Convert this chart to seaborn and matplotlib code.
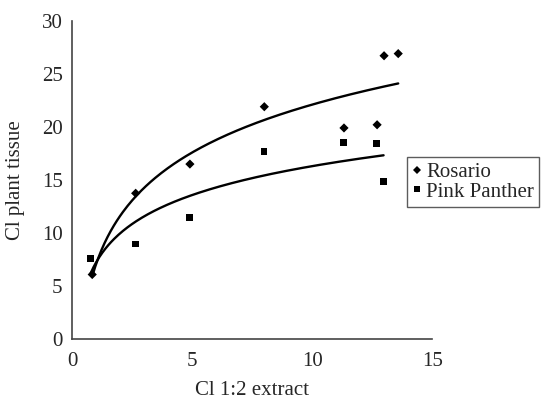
import numpy as np
import pandas as pd
import matplotlib
matplotlib.use("Agg")
import matplotlib.pyplot as plt
import seaborn as sns

# data
rosario_x = [0.83, 2.64, 4.90, 8.00, 11.32, 12.70, 12.99, 13.58]
rosario_y = [6.1, 13.75, 16.5, 21.9, 19.9, 20.2, 26.7, 26.9]
pink_x = [0.76, 2.63, 4.88, 7.99, 11.31, 12.68, 12.97]
pink_y = [7.6, 8.97, 11.47, 17.66, 18.54, 18.45, 14.85]
series_names = ["Rosario", "Pink Panther"]
x_ticks = [0, 5, 10, 15]
y_ticks = [0, 5, 10, 15, 20, 25, 30]

df = pd.DataFrame({
    "x": rosario_x + pink_x,
    "y": rosario_y + pink_y,
    "cultivar": [series_names[0]] * len(rosario_x) + [series_names[1]] * len(pink_x),
})

sns.set_style("white")
plt.rcParams["font.family"] = ["Liberation Serif", "DejaVu Serif"]

fig = plt.figure(figsize=(5.42, 3.98), dpi=100)
ax = fig.add_axes([0.1334, 0.1475, 0.6642, 0.8005])

# logarithmic trendlines (Excel style), fitted to each series
fits = []
for name, xs, ys in [(series_names[0], rosario_x, rosario_y),
                     (series_names[1], pink_x, pink_y)]:
    a, b = np.polyfit(np.log(xs), ys, 1)
    xx = np.linspace(min(xs), max(xs), 200)
    fits.append(pd.DataFrame({"x": xx, "y": a * np.log(xx) + b, "cultivar": name}))
fit_df = pd.concat(fits)

sns.lineplot(data=fit_df, x="x", y="y", units="cultivar", estimator=None,
             color="black", linewidth=1.7, ax=ax, legend=False)

sns.scatterplot(data=df, x="x", y="y", style="cultivar",
                markers={"Rosario": "D", "Pink Panther": "s"},
                color="black", s=22, edgecolor="black", linewidth=0,
                ax=ax)

ax.set_xlim(0, 15)
ax.set_ylim(0, 30)
ax.set_xticks(x_ticks)
ax.set_yticks(y_ticks)
ax.tick_params(labelsize=15, length=4, width=1, color="#444444", direction="out", pad=3)
ax.tick_params(axis="x", pad=5)
for s in ["top", "right"]:
    ax.spines[s].set_visible(False)
for s in ["left", "bottom"]:
    ax.spines[s].set_color("#444444")
    ax.spines[s].set_linewidth(1.2)

ax.set_xlabel("Cl 1:2 extract", fontsize=15, labelpad=7)
ax.set_ylabel("Cl plant tissue", fontsize=15, labelpad=12)

handles, labels = ax.get_legend_handles_labels()
for h in handles:
    h.set_markersize(4.5)
leg = fig.legend(handles, labels, loc="upper left", bbox_to_anchor=(0.750, 0.605),
                 frameon=True, fancybox=False, fontsize=15, handletextpad=0.15,
                 handlelength=0.55, borderpad=0.25, labelspacing=0.0,
                 borderaxespad=0)
leg.get_frame().set_edgecolor("#333333")
leg.get_frame().set_linewidth(1.0)
if ax.get_legend() is not None:
    ax.get_legend().remove()

fig.savefig("out.png", dpi=100)
